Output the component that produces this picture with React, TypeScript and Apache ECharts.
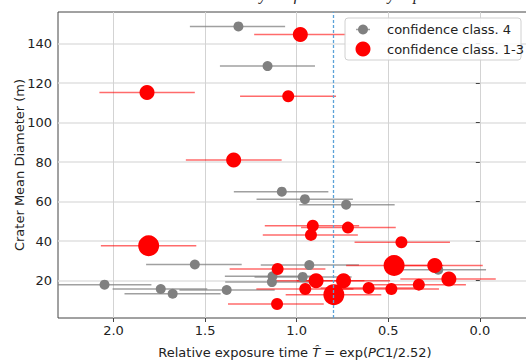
import React, { useEffect, useRef } from "react";
import * as echarts from "echarts";

// Confidence class 4 (gray)
const grayX = [1.318, 1.159, 1.081, 0.955, 0.730, 1.556, 0.931, 0.227, 1.132, 1.135, 0.967, 2.049, 1.742, 1.677, 1.382];
const grayY = [148.7, 128.6, 65.0, 61.2, 58.4, 28.1, 27.8, 25.5, 22.1, 19.2, 21.8, 17.9, 15.7, 13.3, 15.2];
const grayLo = [1.583, 1.419, 1.343, 1.219, 0.986, 1.822, 1.196, 0.49, 1.392, 1.39, 1.23, 2.31, 2.005, 1.94, 1.64];
const grayHi = [1.063, 0.900, 0.827, 0.693, 0.465, 1.300, 0.66, -0.034, 0.87, 0.875, 0.70, 1.793, 1.488, 1.415, 1.12];

// Confidence class 1-3 (red)
const redX = [0.980, 1.817, 1.046, 1.344, 0.912, 0.720, 0.922, 0.428, 1.808, 1.104, 0.468, 0.246, 0.169, 0.894, 0.744, 0.333, 0.607, 0.483, 0.953, 0.797, 1.107];
const redY = [144.6, 115.2, 113.3, 81.0, 47.7, 46.8, 43.1, 39.4, 37.6, 25.8, 27.6, 27.6, 20.8, 19.9, 19.9, 17.9, 16.2, 15.7, 15.7, 12.8, 8.1];
const redLo = [1.232, 2.077, 1.309, 1.605, 1.174, 0.976, 1.185, 0.684, 2.069, 1.366, 0.73, 0.51, 0.434, 1.16, 1.0, 0.6, 0.87, 0.75, 1.22, 1.06, 1.375];
const redHi = [0.730, 1.556, 0.785, 1.082, 0.659, 0.459, 0.666, 0.163, 1.548, 0.843, 0.20, -0.016, -0.087, 0.63, 0.49, 0.076, 0.35, 0.223, 0.69, 0.538, 0.852];
const redClass = [2, 2, 3, 2, 3, 3, 3, 3, 1, 3, 1, 2, 2, 2, 2, 3, 3, 3, 3, 1, 3];

const xTicks = [0, 0.5, 1.0, 1.5, 2.0];
const yTicks = [20, 40, 60, 80, 100, 120, 140];
const refLine = 0.8;

const legendLabels = ["confidence class. 4", "confidence class. 1-3"];

const sizeByClass: Record<number, number> = { 1: 21, 2: 15, 3: 12 };
const FONT = "DejaVu Sans";

function errorBars(lo: number[], hi: number[], y: number[]) {
  return y.map((v, i) => [lo[i], hi[i], v]);
}

export default function App() {
  const ref = useRef<HTMLDivElement>(null);
  useEffect(() => {
    if (!ref.current) return;
    const chart = echarts.init(ref.current, undefined, { renderer: "svg" });
    const barSeries = (data: number[][], color: string, extra: any = {}) => ({
      type: "custom",
      data,
      clip: true,
      silent: true,
      encode: { x: [0, 1], y: 2 },
      renderItem: (params: any, api: any) => {
        const p1 = api.coord([api.value(0), api.value(2)]);
        const p2 = api.coord([api.value(1), api.value(2)]);
        return {
          type: "line",
          shape: { x1: p1[0], y1: p1[1], x2: p2[0], y2: p1[1] },
          style: { stroke: color, lineWidth: 1.5 },
        };
      },
      ...extra,
    });
    chart.setOption({
      animation: false,
      grid: {
        left: 58,
        right: -2,
        top: 12,
        bottom: 42,
        containLabel: false,
        outerBoundsMode: "none",
        show: true,
        borderColor: "#444",
        borderWidth: 1,
        backgroundColor: "transparent",
      },
      xAxis: {
        type: "value",
        inverse: true,
        min: -0.263,
        max: 2.303,
        axisLine: { show: false },
        axisTick: { show: true, length: 4, customValues: xTicks, lineStyle: { color: "#444" } },
        axisLabel: {
          customValues: xTicks,
          formatter: (v: number) => v.toFixed(1),
          fontFamily: FONT,
          fontSize: 13,
          color: "#222",
          margin: 6,
        },
        splitLine: { show: true, lineStyle: { color: "#d3d3d3", width: 1 } },
      },
      yAxis: {
        type: "value",
        min: 1,
        max: 156,
        axisLine: { show: false },
        axisTick: { show: true, length: 4, customValues: yTicks, lineStyle: { color: "#444" } },
        axisLabel: {
          customValues: yTicks,
          fontFamily: FONT,
          fontSize: 13,
          color: "#222",
          margin: 6,
        },
        splitLine: { show: true, lineStyle: { color: "#e0e0e0", width: 1.5 } },
        name: "Crater Mean Diameter (m)",
        nameLocation: "middle",
        nameGap: 32,
        nameMoveOverlap: false,
        nameTextStyle: { fontFamily: FONT, fontSize: 13, color: "#222" },
      },
      series: [
        barSeries(errorBars(grayLo, grayHi, grayY), "rgba(128,128,128,0.75)", {
          markLine: {
            silent: true,
            symbol: ["none", "none"],
            label: { show: false },
            lineStyle: { type: [3, 2], color: "#5aa2d8", width: 1.3 },
            data: [{ xAxis: refLine }],
          },
        }),
        {
          type: "scatter",
          name: legendLabels[0],
          data: grayX.map((x, i) => [x, grayY[i]]),
          symbolSize: 10,
          itemStyle: { color: "#808080", opacity: 1 },
          silent: true,
        },
        barSeries(errorBars(redLo, redHi, redY), "rgba(255,0,0,0.58)"),
        {
          type: "scatter",
          name: legendLabels[1],
          data: redX.map((x, i) => [x, redY[i], redClass[i]]),
          symbolSize: (v: number[]) => sizeByClass[v[2]],
          itemStyle: { color: "#ff0000", opacity: 1 },
          silent: true,
        },
      ],
      graphic: [
        {
          type: "text",
          x: 295,
          y: 352,
          style: {
            rich: {
              n: { fontFamily: FONT, fontSize: 13, fill: "#222" },
              i: { fontFamily: FONT, fontSize: 13, fill: "#222", fontStyle: "italic" },
            },
            text: "{n|Relative exposure time }{i|T\u0302}{n| = exp(}{i|PC}{n|1/2.52)}",
            textAlign: "center",
            verticalAlign: "middle",
          },
        },
        {
          type: "text",
          x: 300,
          y: -14,
          style: {
            text: "Crater diameter by confidence class by exposure",
            fontFamily: "Liberation Serif",
            fontStyle: "italic",
            fontSize: 16,
            fill: "#222",
            textAlign: "center",
          },
        },
        {
          type: "rect",
          shape: { x: 345, y: 18, width: 176, height: 42, r: 3 },
          style: { fill: "rgba(255,255,255,0.85)", stroke: "#d0d0d0", lineWidth: 1 },
          z: 100,
        },
        {
          type: "line",
          shape: { x1: 356, y1: 29.5, x2: 370, y2: 29.5 },
          style: { stroke: "rgba(128,128,128,0.75)", lineWidth: 1.5 },
          z: 101,
        },
        {
          type: "circle",
          shape: { cx: 363, cy: 29.5, r: 5 },
          style: { fill: "#808080" },
          z: 102,
        },
        {
          type: "circle",
          shape: { cx: 363, cy: 49, r: 7.5 },
          style: { fill: "#ff0000" },
          z: 102,
        },
        {
          type: "text",
          x: 387,
          y: 29.5,
          style: { text: legendLabels[0], fontFamily: FONT, fontSize: 13, fill: "#222", verticalAlign: "middle" },
          z: 102,
        },
        {
          type: "text",
          x: 387,
          y: 49,
          style: { text: legendLabels[1], fontFamily: FONT, fontSize: 13, fill: "#222", verticalAlign: "middle" },
          z: 102,
        },
      ],
    });
    return () => chart.dispose();
  }, []);
  return <div ref={ref} style={{ width: 526, height: 360, position: "absolute", left: 0, top: 0 }} />;
}
